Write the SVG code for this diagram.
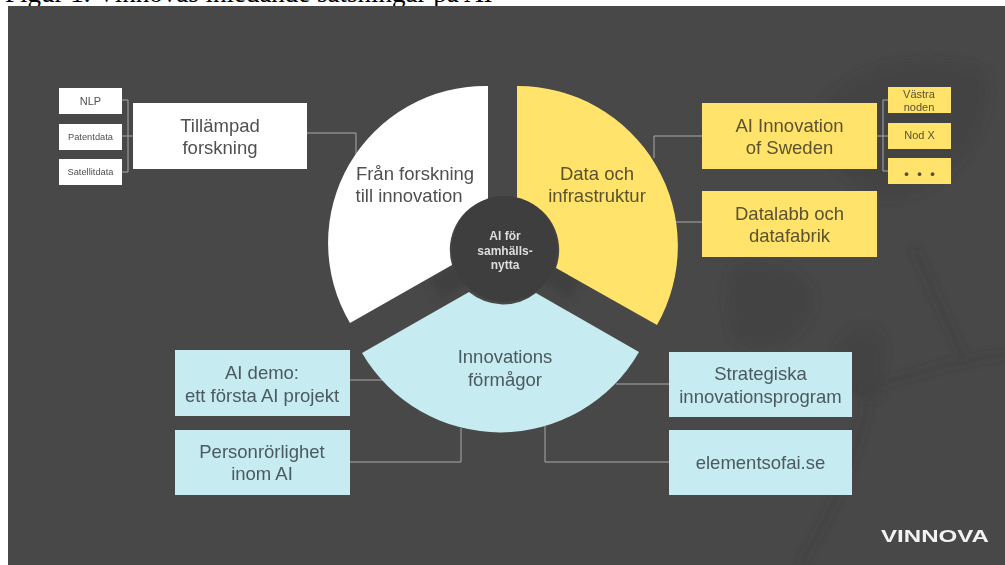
<svg xmlns="http://www.w3.org/2000/svg" width="1005" height="565" viewBox="0 0 1005 565">
<style>
text{font-family:"Liberation Sans",Arial,sans-serif;text-anchor:middle;fill:#505050}
.l{font-size:18.5px}
.s{font-size:11px}
.xs{font-size:9.300px}
.w{fill:#fff}.y{fill:#ffe36a}.b{fill:#c6ebf0}
.ty{fill:#5a5230}.tb{fill:#4a5a5e}
.lead{fill:none;stroke:#a9a9a9;stroke-width:1}
.leaf{fill:#3f3f3f;opacity:.35}
.stem{fill:none;stroke:#393939;stroke-width:2.500;opacity:.6}
</style>
<defs><filter id="soft" x="-20%" y="-20%" width="140%" height="140%"><feGaussianBlur stdDeviation="4"/></filter></defs>
<rect width="1005" height="565" fill="#fff"/>
<text x="5" y="1.500" style="font-family:'Liberation Serif',serif;font-size:27px;text-anchor:start;fill:#000">Figur 1. Vinnovas inledande satsningar på AI</text>
<rect x="8" y="6" width="997" height="559" fill="#484848"/>
<g id="background" filter="url(#soft)">
<path class="leaf" d="M820 110C850 60 930 50 985 70C1000 120 960 190 890 200C850 190 820 160 820 110Z"/>
<path class="leaf" d="M730 270C760 250 810 270 815 300C810 340 760 360 735 340C725 320 725 290 730 270Z"/>
<path class="leaf" d="M835 350C850 320 880 320 885 345L880 400L835 395Z"/>
<path class="stem" d="M915 250L963 357M855 390C900 380 950 360 1005 355M870 392C860 440 850 480 800 565"/>
<path d="M505 249L435 289M505 249L575 289" stroke="#414141" stroke-width="22" fill="none"/>
</g>
<g id="connectors" class="lead">
<path d="M122 100H128V172H122M122 136H133"/>
<path d="M307 133H356V154"/>
<path d="M702 136H654V158"/>
<path d="M702 222H676"/>
<path d="M888 100H883V171H888M877 136H888"/>
<path d="M350 380H385"/>
<path d="M350 462H461V428"/>
<path d="M669 462H545V426"/>
<path d="M669 384H616"/>
</g>
<g id="sector-forskning"><path class="w" d="M488 86A157 157 0 0 0 350 323L452 265A53 53 0 0 1 488 199Z"/>
<text class="l"><tspan x="415" y="180">Från forskning</tspan><tspan x="409" y="202">till innovation</tspan></text></g>
<g id="sector-data"><path class="y" d="M517 86A160 160 0 0 1 657 325L556 268A53 53 0 0 0 517 198Z"/>
<text class="l ty"><tspan x="597" y="180">Data och</tspan><tspan x="597" y="202">infrastruktur</tspan></text></g>
<g id="sector-formagor"><path class="b" d="M362 353A160 160 0 0 0 639 352L536 293A53 53 0 0 1 469 292Z"/>
<text class="l tb"><tspan x="505" y="363">Innovations</tspan><tspan x="505" y="386">förmågor</tspan></text></g>
<g id="hub"><circle cx="504.500" cy="249" r="53" fill="#3e3e3e"/>
<text style="font-size:12px;font-weight:bold;fill:#dedede"><tspan x="505" y="240">AI för</tspan><tspan x="505" y="255">samhälls-</tspan><tspan x="505" y="269">nytta</tspan></text></g>
<g id="nlp"><rect class="w" x="59" y="88" width="63" height="26"/><text class="s" x="90.500" y="105">NLP</text></g>
<g id="patentdata"><rect class="w" x="59" y="124" width="63" height="26"/><text class="xs" x="90.500" y="140">Patentdata</text></g>
<g id="satellitdata"><rect class="w" x="59" y="159" width="63" height="26"/><text class="xs" x="90.500" y="175">Satellitdata</text></g>
<g id="tillampad"><rect class="w" x="133" y="103" width="174" height="66"/><text class="l"><tspan x="220" y="132">Tillämpad</tspan><tspan x="220" y="154">forskning</tspan></text></g>
<g id="ai-innovation"><rect class="y" x="702" y="103" width="175" height="66"/><text class="l ty"><tspan x="789.500" y="132">AI Innovation</tspan><tspan x="789.500" y="154">of Sweden</tspan></text></g>
<g id="datalabb"><rect class="y" x="702" y="191" width="175" height="66"/><text class="l ty"><tspan x="789.500" y="220">Datalabb och</tspan><tspan x="789.500" y="242">datafabrik</tspan></text></g>
<g id="vastra"><rect class="y" x="888" y="87" width="63" height="26"/><text class="s ty"><tspan x="919" y="98">Västra</tspan><tspan x="919" y="111">noden</tspan></text></g>
<g id="nodx"><rect class="y" x="888" y="123" width="63" height="26"/><text class="s ty" x="919.500" y="139">Nod X</text></g>
<g id="more"><rect class="y" x="888" y="158" width="63" height="26"/><text class="ty" style="font-size:13px;font-weight:bold;word-spacing:4.800px" x="919.500" y="178">• • •</text></g>
<g id="ai-demo"><rect class="b" x="175" y="350" width="175" height="66"/><text class="l tb"><tspan x="262" y="379">AI demo:</tspan><tspan x="262" y="402">ett första AI projekt</tspan></text></g>
<g id="personrorlighet"><rect class="b" x="175" y="430" width="175" height="65"/><text class="l tb"><tspan x="262" y="458">Personrörlighet</tspan><tspan x="262" y="480">inom AI</tspan></text></g>
<g id="strategiska"><rect class="b" x="669" y="352" width="183" height="65"/><text class="l tb"><tspan x="760.500" y="380">Strategiska</tspan><tspan x="760.500" y="403">innovationsprogram</tspan></text></g>
<g id="elementsofai"><rect class="b" x="669" y="430" width="183" height="65"/><text class="l tb" x="760.500" y="469">elementsofai.se</text></g>
<g id="logo"><text x="881" y="542" textLength="108" lengthAdjust="spacingAndGlyphs" style="font-size:16.500px;font-weight:bold;fill:#f2f2f2;text-anchor:start">VINNOVA</text></g>
</svg>
